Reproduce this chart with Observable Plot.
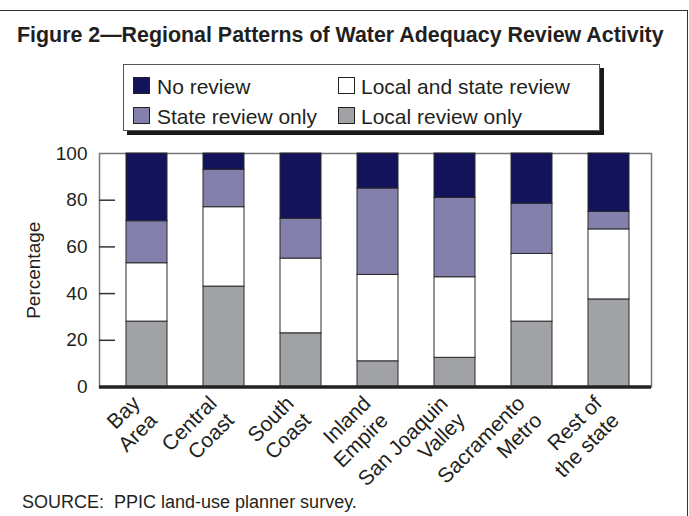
<!DOCTYPE html>
<html><head><meta charset="utf-8">
<script src="https://cdn.jsdelivr.net/npm/d3@7"></script>
<script src="https://cdn.jsdelivr.net/npm/@observablehq/plot@0.6"></script>
<style>
body{margin:0;background:#fff;}
#fig{position:relative;width:689px;height:516px;overflow:hidden;font-family:"Liberation Sans",Arial,sans-serif;color:#231f20;line-height:1;}
#border{position:absolute;left:0;top:10px;width:687px;height:520px;border-top:1.5px solid #333;border-right:1.5px solid #333;}
#title{position:absolute;left:17px;top:24.5px;font-weight:bold;font-size:21.4px;white-space:nowrap;}
#legend{position:absolute;left:123px;top:64px;width:475px;height:65px;border:1px solid #555;box-shadow:4px 4px 0 #1a1a1a;background:#fff;}
.item{position:absolute;font-size:21px;white-space:nowrap;height:21px;line-height:21px;}
.sw{position:absolute;width:15px;height:15px;border:1px solid #222;}
#chart{position:absolute;left:0;top:140px;}
#source{position:absolute;left:22px;top:493px;font-size:18px;white-space:nowrap;}
</style>
</head><body>
<div id="fig">
  <div id="border"></div>
  <div id="title">Figure 2—Regional Patterns of Water Adequacy Review Activity</div>
  <div id="legend"></div>
  <div id="chart"></div>
  <div id="source">SOURCE:&nbsp; PPIC land-use planner survey.</div>
</div>
<script>
const regions = ["Bay Area","Central Coast","South Coast","Inland Empire","San Joaquin Valley","Sacramento Metro","Rest of the state"];
const xLabels = ["Bay\nArea","Central\nCoast","South\nCoast","Inland\nEmpire","San Joaquin\nValley","Sacramento\nMetro","Rest of\nthe state"];
const seriesNames = ["Local review only","Local and state review","State review only","No review"];
const seriesColors = ["#a1a2a5","#ffffff","#8380ab","#13135b"];
const localOnly   = [28, 43, 23, 11, 12.5, 28, 37.5];
const localState  = [25, 34, 32, 37, 34.5, 29, 30];
const stateOnly   = [18, 16, 17, 37, 34, 21.5, 7.5];
const noReview    = [29, 7, 28, 15, 19, 21.5, 25];
const yTicks = [0, 20, 40, 60, 80, 100];
const legendOrder = [["No review","Local and state review"],["State review only","Local review only"]];

const seriesValues = [localOnly, localState, stateOnly, noReview];
const table = [];
seriesNames.forEach((s, j) => regions.forEach((r, i) => table.push({region: r, series: s, value: seriesValues[j][i]})));

// legend
const legend = document.getElementById("legend");
const colX = [[9, 33], [214, 237]];
const rowY = [10.5, 40.5];
legendOrder.forEach((row, ri) => row.forEach((name, ci) => {
  const sw = document.createElement("div");
  sw.className = "sw";
  sw.style.left = colX[ci][0] + "px";
  sw.style.top = (rowY[ri] + 1.5) + "px";
  sw.style.background = seriesColors[seriesNames.indexOf(name)];
  legend.appendChild(sw);
  const it = document.createElement("div");
  it.className = "item";
  it.style.left = colX[ci][1] + "px";
  it.style.top = rowY[ri] + "px";
  it.textContent = name;
  legend.appendChild(it);
}));

const W = 689, ML = 99, MR = 38;
const chart = Plot.plot({
  width: W, height: 350,
  marginLeft: ML, marginRight: MR, marginTop: 13, marginBottom: 103.5,
  style: {fontFamily: "'Liberation Sans', Arial, sans-serif", fontSize: "19px", color: "#231f20", background: "transparent"},
  x: {domain: regions, paddingInner: 0.468, paddingOuter: 0.31, align: 0.55, axis: null},
  y: {domain: [0, 100], axis: null},
  color: {domain: seriesNames, range: seriesColors},
  marks: [
    Plot.frame({stroke: "#777", strokeWidth: 1.5}),
    Plot.barY(table, {x: "region", y: "value", fill: "series", stroke: "#2a2a2a", strokeWidth: 1}),
    Plot.tickY(yTicks.slice(1, -1), {y: d => d, insetRight: W - ML - MR - 16, stroke: "#333", strokeWidth: 1.5}),
    Plot.axisY({ticks: yTicks, tickSize: 0, tickPadding: 12, line: true, strokeWidth: 3.5, stroke: "#222",
      fontSize: 19, label: "Percentage", labelAnchor: "center", labelOffset: 73, labelArrow: "none"}),
    Plot.ruleY([0], {stroke: "#222", strokeWidth: 3.5}),
    Plot.text(regions, {x: d => d, text: (d, i) => xLabels[i], frameAnchor: "bottom", rotate: -45,
      textAnchor: "end", lineAnchor: "top", lineHeight: 1.15, dx: -18, dy: 5.5, fontSize: 21, fill: "#231f20"})
  ]
});
document.getElementById("chart").appendChild(chart);
</script>
</body></html>
